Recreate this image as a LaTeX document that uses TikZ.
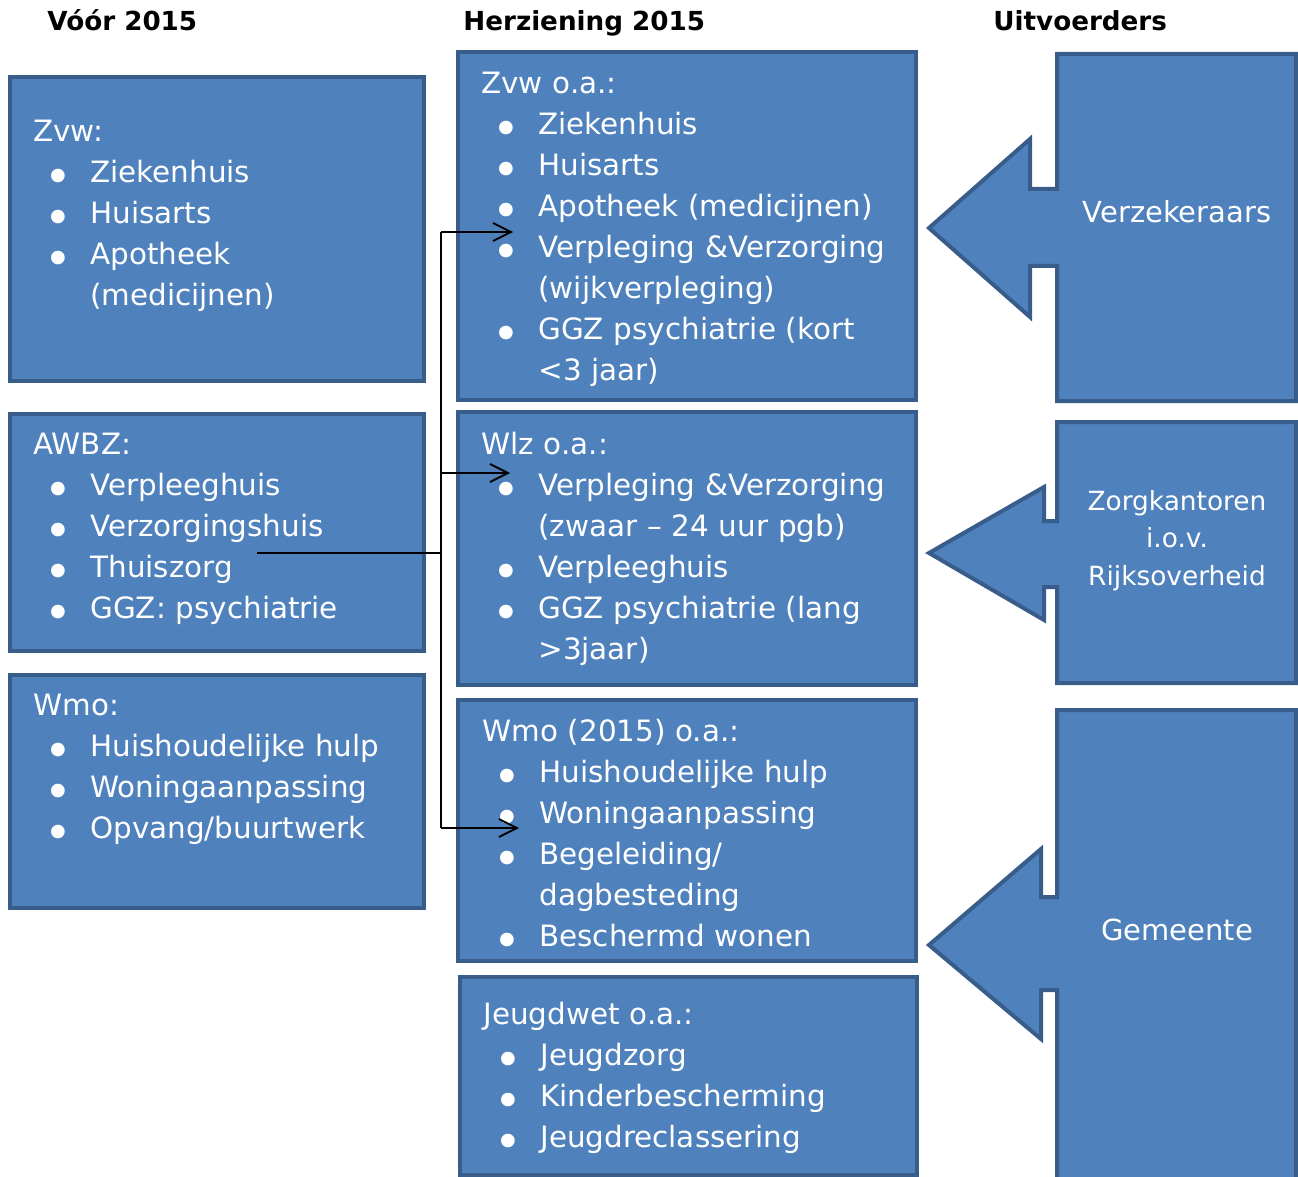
\documentclass[tikz,border=0pt]{standalone}
\usepackage{fontspec}
\usepackage{graphicx}
\setmainfont{DejaVu Sans}
\usetikzlibrary{arrows.meta}
\definecolor{cFill}{HTML}{4F81BD}
\definecolor{cEdge}{HTML}{385D8A}
\tikzset{
  boxst/.style={draw=cEdge, fill=cFill, line width=2pt},
  listtxt/.style={anchor=north west, inner sep=0pt, text=white, text width=230pt, align=left, font=\fontsize{14.7}{20.5}\selectfont},
  hdr/.style={anchor=base west, inner sep=0pt, font=\bfseries\fontsize{13.1}{16}\selectfont},
  actor/.style={draw=cEdge, fill=cFill, line width=2pt, line join=miter},
  actxt/.style={text=white, inner sep=0pt, align=center, font=\fontsize{14.5}{20}\selectfont},
  conn/.style={line width=0.9pt},
  link/.style={conn, -{Straight Barb[length=9pt,width=9pt]}},
}
\newcommand{\blt}{\raisebox{-5.6pt}[0pt][0pt]{\scalebox{1.6}{\textbullet}}}
\newcommand{\itm}[1]{\\\hspace*{5.6pt}\makebox[22.9pt][l]{\blt}#1}
\newcommand{\cnt}[1]{\\\hspace*{28.5pt}#1}
% rectangle with a left-pointing arrow: top, bottom, head x, head top, head bottom, notch top, notch bottom, tip y
\newcommand{\callout}[8]{\draw[actor] (1057,#1) -- (1296,#1) -- (1296,#2) -- (1057,#2) -- (1057,#7) -- (#3,#7) -- (#3,#5) -- (929,#8) -- (#3,#4) -- (#3,#6) -- (1057,#6) -- cycle;}

\begin{document}
\begin{tikzpicture}[x=0.5pt, y=-0.5pt]
\useasboundingbox (0,0) rectangle (1298,1177);

% column headers
\node[hdr] (hVoor) at (47,31) {Vóór 2015};
\node[hdr] (hHerz) at (463,31) {Herziening 2015};
\node[hdr] (hUitv) at (993,31) {Uitvoerders};

% before 2015
\draw[boxst] (10,77) rectangle (424,381);
\node[listtxt] (oudZvw) at (33,112.3) {\strut Zvw:\itm{Ziekenhuis}\itm{Huisarts}\itm{Apotheek}\cnt{(medicijnen)}};
\draw[boxst] (10,414) rectangle (424,651);
\node[listtxt] (oudAwbz) at (33,425.3) {\strut AWBZ:\itm{Verpleeghuis}\itm{Verzorgingshuis}\itm{Thuiszorg}\itm{GGZ: psychiatrie}};
\draw[boxst] (10,675) rectangle (424,908);
\node[listtxt] (oudWmo) at (33,686.3) {\strut Wmo:\itm{Huishoudelijke hulp}\itm{Woningaanpassing}\itm{Opvang/buurtwerk}};

% revision 2015
\draw[boxst] (458,52) rectangle (916,400);
\node[listtxt] (nwZvw) at (481,64.3) {\strut Zvw o.a.:\itm{Ziekenhuis}\itm{Huisarts}\itm{Apotheek (medicijnen)}\itm{Verpleging \&Verzorging}\cnt{(wijkverpleging)}\itm{GGZ psychiatrie (kort}\cnt{<3 jaar)}};
\draw[boxst] (458,412) rectangle (916,685);
\node[listtxt] (nwWlz) at (481,425.3) {\strut Wlz o.a.:\itm{Verpleging \&Verzorging}\cnt{(zwaar – 24 uur pgb)}\itm{Verpleeghuis}\itm{GGZ psychiatrie (lang}\cnt{>3jaar)}};
\draw[boxst] (458,700) rectangle (916,961);
\node[listtxt] (nwWmo) at (482,712.3) {\strut Wmo (2015) o.a.:\itm{Huishoudelijke hulp}\itm{Woningaanpassing}\itm{Begeleiding/}\cnt{dagbesteding}\itm{Beschermd wonen}};
\draw[boxst] (460,977) rectangle (917,1175);
\node[listtxt] (nwJeugd) at (483,995.3) {\strut Jeugdwet o.a.:\itm{Jeugdzorg}\itm{Kinderbescherming}\itm{Jeugdreclassering}};

% executors
\callout{54}{401}{1030}{139}{317}{189}{266}{228}
\node[actxt, anchor=base] (uVerz) at (1177,223) {Verzekeraars};
\callout{422}{683}{1044}{487}{620}{521}{587}{553}
\node[actxt, anchor=north, font=\fontsize{13.2}{18.75}\selectfont] (uZorg) at (1177,483.8) {\strut Zorgkantoren\\i.o.v.\\Rijksoverheid};
\callout{710}{1190}{1041}{849}{1039}{897}{990}{945}
\node[actxt, anchor=base] (uGem) at (1177,940) {Gemeente};

% AWBZ split over the new laws
\coordinate (thuisEnd) at (257,553);
\coordinate (jAwbz) at (441,553);
\coordinate (jTop) at (441,232);
\coordinate (jWlz) at (441,473);
\coordinate (jBot) at (441,828);
\coordinate (inZvw) at (513,232);
\coordinate (inWlz) at (510,473);
\coordinate (inWmo) at (519,828);
\draw[conn] (thuisEnd) -- (jAwbz);
\draw[conn] (jTop) -- (jBot);
\draw[link] (jTop) -- (inZvw);
\draw[link] (jWlz) -- (inWlz);
\draw[link] (jBot) -- (inWmo);
\end{tikzpicture}
\end{document}
